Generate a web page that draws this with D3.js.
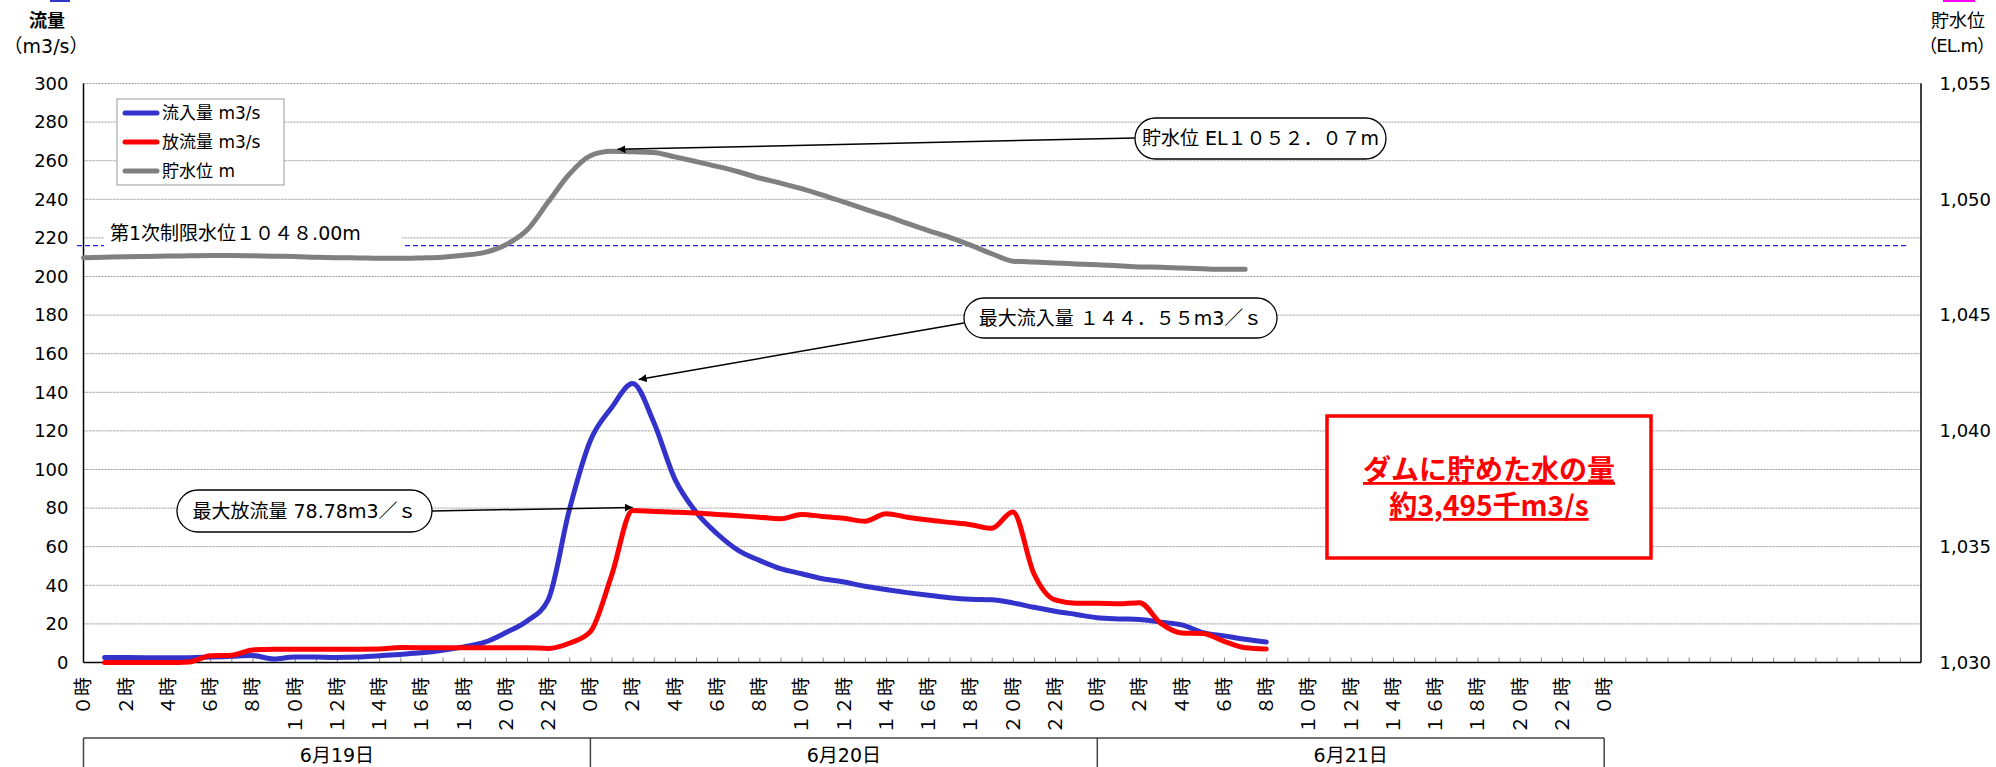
<!DOCTYPE html>
<html>
<head>
<meta charset="utf-8">
<script src="https://cdn.jsdelivr.net/npm/d3@7.9.0/dist/d3.min.js"></script>
<style>
  body { margin: 0; background: #fff; }
  svg { display: block; font-family: "DejaVu Sans", "Noto Sans CJK JP", sans-serif; }
</style>
</head>
<body>
<svg id="chart" width="1996" height="767"></svg>
<script>
// hours counted from 0時 on 6/19
const flowHours = d3.range(1, 57);
const inflow = [2.6, 2.6, 2.5, 2.4, 2.5, 2.8, 3.2, 3.6, 1.8, 2.9,
  2.8, 2.6, 2.8, 3.5, 4.2, 5.0, 6.3, 8.1, 10.5, 15.5,
  21.5, 32.5, 79, 115, 132, 144.55, 124.5, 95, 78, 66.7,
  58.1, 52.9, 48.6, 46, 43.4, 41.7, 39.5, 37.8, 36.2, 34.8,
  33.6, 32.8, 32.5, 30.9, 28.6, 26.6, 24.9, 23.2, 22.6, 22.3,
  20.9, 19.5, 15.5, 13.8, 12.0, 10.6];
const outflow = [0, 0, 0, 0, 0.3, 3.5, 3.8, 6.5, 6.9, 6.9,
  6.9, 6.9, 6.9, 7.0, 7.8, 7.7, 7.6, 7.6, 7.6, 7.6,
  7.6, 7.3, 10.0, 16, 45, 78.78, 78.3, 77.9, 77.4, 76.7,
  76.0, 75.3, 74.5, 76.7, 75.7, 74.7, 73.2, 77.1, 75.3, 73.8,
  72.6, 71.4, 69.5, 78, 46, 32.4, 30.7, 30.7, 30.4, 31,
  20.4, 15.3, 15, 11, 7.6, 7.0];
const levelHours = d3.range(0, 56);
const level = [1047.48, 1047.50, 1047.52, 1047.53, 1047.55, 1047.56, 1047.57, 1047.57, 1047.56, 1047.54,
  1047.53, 1047.50, 1047.48, 1047.47, 1047.45, 1047.45, 1047.47, 1047.50, 1047.58, 1047.71,
  1048.04, 1048.67, 1049.88, 1051.08, 1051.88, 1052.07, 1052.05, 1052.02, 1051.83, 1051.63,
  1051.42, 1051.19, 1050.92, 1050.70, 1050.46, 1050.18, 1049.88, 1049.58, 1049.28, 1048.96,
  1048.65, 1048.36, 1048.02, 1047.65, 1047.33, 1047.29, 1047.25, 1047.21, 1047.17, 1047.13,
  1047.08, 1047.07, 1047.03, 1047.00, 1046.98, 1046.98];
const limitLevel = 1048.00;

const hourLabels = ['０時', '２時', '４時', '６時', '８時', '１０時', '１２時', '１４時', '１６時', '１８時', '２０時', '２２時'];
const dayLabels = ['6月19日', '6月20日', '6月21日'];
const flowTicks = d3.range(0, 301, 20);
const levelTicks = d3.range(1030, 1056, 5);

const svg = d3.select('#chart');

const x = d3.scaleLinear().domain([0, 87]).range([83.5, 1921]);
const y = d3.scaleLinear().domain([0, 300]).range([662.5, 83.5]);
const yR = d3.scaleLinear().domain([1030, 1055]).range([662.5, 83.5]);

// cut-off bits at the very top
svg.append('rect').attr('x', 50).attr('y', 0).attr('width', 20).attr('height', 2).attr('fill', '#3333cc');
svg.append('rect').attr('x', 1943).attr('y', 0).attr('width', 32).attr('height', 2).attr('fill', '#ff00ff');

// gridlines
svg.append('g')
  .selectAll('line')
  .data(flowTicks.slice(1))
  .join('line')
  .attr('x1', x(0)).attr('x2', x(87))
  .attr('y1', d => y(d)).attr('y2', d => y(d))
  .attr('stroke', '#9a9a9a')
  .attr('stroke-width', 1)
  .attr('stroke-dasharray', '2,1');

// limit level line and its label
svg.append('line')
  .attr('x1', 77).attr('x2', 1907)
  .attr('y1', yR(limitLevel)).attr('y2', yR(limitLevel))
  .attr('stroke', '#2222ee')
  .attr('stroke-width', 1.4)
  .attr('stroke-dasharray', '5,3');
svg.append('rect')
  .attr('x', 104).attr('y', 221).attr('width', 298).attr('height', 28)
  .attr('fill', '#fff');
svg.append('text')
  .attr('x', 110).attr('y', 233).attr('dy', '0.35em')
  .attr('font-size', 19)
  .text('第1次制限水位１０４８.00m');

// x ticks (every hour, inside)
svg.append('g')
  .attr('transform', `translate(0,${y(0)})`)
  .call(d3.axisBottom(x).tickValues(d3.range(1, 87)).tickSize(-5).tickFormat(''))
  .call(g => g.select('.domain').remove())
  .call(g => g.selectAll('.tick line').attr('stroke', '#888'));

// x labels (every 2 hours, rotated)
const labelHours = d3.range(0, 73, 2);
svg.append('g')
  .selectAll('text')
  .data(labelHours)
  .join('text')
  .attr('transform', d => `translate(${x(d)},677) rotate(-90)`)
  .attr('text-anchor', 'end')
  .attr('dy', '0.36em')
  .attr('font-size', 19)
  .attr('font-family', '"Noto Sans CJK JP", sans-serif')
  .text((d, i) => hourLabels[i % hourLabels.length]);

// left axis labels
svg.append('g')
  .attr('transform', `translate(${x(0)},0)`)
  .call(d3.axisLeft(y).tickValues(flowTicks).tickSize(0).tickPadding(15))
  .call(g => g.select('.domain').remove())
  .call(g => g.selectAll('text').attr('font-size', 18).attr('font-family', '"DejaVu Sans", sans-serif').attr('fill', '#000'));

// right axis labels
svg.append('g')
  .attr('transform', `translate(${x(87)},0)`)
  .call(d3.axisRight(yR).tickValues(levelTicks).tickSize(0).tickFormat(d3.format(',')))
  .call(g => g.select('.domain').remove())
  .call(g => g.selectAll('text').attr('font-size', 18).attr('font-family', '"DejaVu Sans", sans-serif')
    .attr('text-anchor', 'end').attr('x', 70).attr('fill', '#000'));

// axis frame
svg.append('line').attr('x1', x(0)).attr('x2', x(0)).attr('y1', y(300)).attr('y2', y(0)).attr('stroke', '#000').attr('stroke-width', 1.5);
svg.append('line').attr('x1', x(87)).attr('x2', x(87)).attr('y1', y(300)).attr('y2', y(0)).attr('stroke', '#000').attr('stroke-width', 1.5);
svg.append('line').attr('x1', x(0)).attr('x2', x(87)).attr('y1', y(0)).attr('y2', y(0)).attr('stroke', '#000').attr('stroke-width', 1.5);

// axis titles
svg.append('text').attr('x', 47).attr('y', 21).attr('dy', '0.35em').attr('text-anchor', 'middle')
  .attr('font-size', 18).attr('font-weight', 'bold').text('流量');
svg.append('text').attr('x', 46).attr('y', 46).attr('dy', '0.35em').attr('text-anchor', 'middle')
  .attr('font-size', 19).text('（m3/s）');
svg.append('text').attr('x', 1958).attr('y', 21).attr('dy', '0.35em').attr('text-anchor', 'middle')
  .attr('font-size', 18).text('貯水位');
svg.append('text').attr('x', 1994).attr('y', 46).attr('dy', '0.35em').attr('text-anchor', 'end')
  .attr('font-size', 18).attr('letter-spacing', -1).text('（EL.m）');

// series
const flowLine = vals => d3.line()
  .x((d, i) => x(flowHours[i]))
  .y(d => y(d))
  .curve(d3.curveMonotoneX)(vals);

svg.append('path')
  .attr('d', d3.line().x((d, i) => x(levelHours[i])).y(d => yR(d)).curve(d3.curveMonotoneX)(level))
  .attr('fill', 'none').attr('stroke', '#808080').attr('stroke-width', 5).attr('stroke-linecap', 'round');
svg.append('path')
  .attr('d', flowLine(inflow))
  .attr('fill', 'none').attr('stroke', '#3333cc').attr('stroke-width', 5).attr('stroke-linecap', 'round');
svg.append('path')
  .attr('d', flowLine(outflow))
  .attr('fill', 'none').attr('stroke', '#ff0000').attr('stroke-width', 5).attr('stroke-linecap', 'round');

// legend
const legend = svg.append('g');
legend.append('rect').attr('x', 117).attr('y', 99).attr('width', 167).attr('height', 86)
  .attr('fill', '#fff').attr('stroke', '#999');
const legendItems = [
  { name: '流入量 m3/s', color: '#3333cc' },
  { name: '放流量 m3/s', color: '#ff0000' },
  { name: '貯水位 m', color: '#808080' }
];
legendItems.forEach((d, i) => {
  const ly = 113 + i * 29;
  legend.append('line').attr('x1', 125).attr('x2', 157).attr('y1', ly).attr('y2', ly)
    .attr('stroke', d.color).attr('stroke-width', 5).attr('stroke-linecap', 'round');
  legend.append('text').attr('x', 162).attr('y', ly).attr('dy', '0.36em')
    .attr('font-size', 17).text(d.name);
});

// callouts
svg.append('defs').append('marker')
  .attr('id', 'arrow').attr('viewBox', '0 0 10 10')
  .attr('refX', 10).attr('refY', 5)
  .attr('markerWidth', 8).attr('markerHeight', 8)
  .attr('markerUnits', 'userSpaceOnUse')
  .attr('orient', 'auto')
  .append('path').attr('d', 'M0,0 L10,5 L0,10 Z').attr('fill', '#000');

const peakIn = d3.maxIndex(inflow);
const peakOut = d3.maxIndex(outflow);
const peakLevel = d3.maxIndex(level);

const callouts = [
  { text: '貯水位 EL１０５２．０７m', box: [1135, 118, 251, 41], from: [1135, 138],
    to: [x(levelHours[peakLevel]) + 6, yR(level[peakLevel]) - 2] },
  { text: '最大流入量 １４４．５５m3／ｓ', box: [964, 298, 313, 40], from: [964, 323],
    to: [x(flowHours[peakIn]) + 6, y(inflow[peakIn]) - 4] },
  { text: '最大放流量 78.78m3／ｓ', box: [177, 490, 255, 42], from: [432, 511],
    to: [x(flowHours[peakOut]), y(outflow[peakOut]) - 3] }
];
callouts.forEach(c => {
  svg.append('line')
    .attr('x1', c.from[0]).attr('y1', c.from[1])
    .attr('x2', c.to[0]).attr('y2', c.to[1])
    .attr('stroke', '#000').attr('stroke-width', 1.5)
    .attr('marker-end', 'url(#arrow)');
  const [bx, by, bw, bh] = c.box;
  svg.append('rect').attr('x', bx).attr('y', by).attr('width', bw).attr('height', bh)
    .attr('rx', bh / 2).attr('ry', bh / 2)
    .attr('fill', '#fff').attr('stroke', '#000').attr('stroke-width', 1.3);
  svg.append('text').attr('x', bx + bw / 2).attr('y', by + bh / 2).attr('dy', '0.36em')
    .attr('text-anchor', 'middle').attr('font-size', 19).text(c.text);
});

// stored volume box
svg.append('rect').attr('x', 1327).attr('y', 416).attr('width', 324).attr('height', 142)
  .attr('fill', '#fff').attr('stroke', '#ff0000').attr('stroke-width', 3.5);
svg.append('text').attr('x', 1489).attr('y', 480).attr('text-anchor', 'middle')
  .attr('font-size', 28).attr('fill', '#ff0000').attr('text-decoration', 'underline')
  .attr('font-family', '"Noto Sans CJK JP", sans-serif').attr('font-weight', 'bold')
  .text('ダムに貯めた水の量');
svg.append('text').attr('x', 1489).attr('y', 516).attr('text-anchor', 'middle')
  .attr('font-size', 28).attr('fill', '#ff0000').attr('text-decoration', 'underline')
  .attr('font-family', '"Noto Sans CJK JP", sans-serif').attr('font-weight', 'bold')
  .text('約3,495千m3/s');

// date table
const table = svg.append('g').attr('stroke', '#444').attr('stroke-width', 1.5);
table.append('line').attr('x1', x(0)).attr('x2', x(72)).attr('y1', 738).attr('y2', 738);
d3.range(0, 73, 24).forEach(h => {
  table.append('line').attr('x1', x(h)).attr('x2', x(h)).attr('y1', 738).attr('y2', 767);
});
svg.append('g')
  .selectAll('text')
  .data(dayLabels)
  .join('text')
  .attr('x', (d, i) => x(i * 24 + 12))
  .attr('y', 755).attr('dy', '0.35em')
  .attr('text-anchor', 'middle')
  .attr('font-size', 19)
  .text(d => d);
</script>
</body>
</html>
